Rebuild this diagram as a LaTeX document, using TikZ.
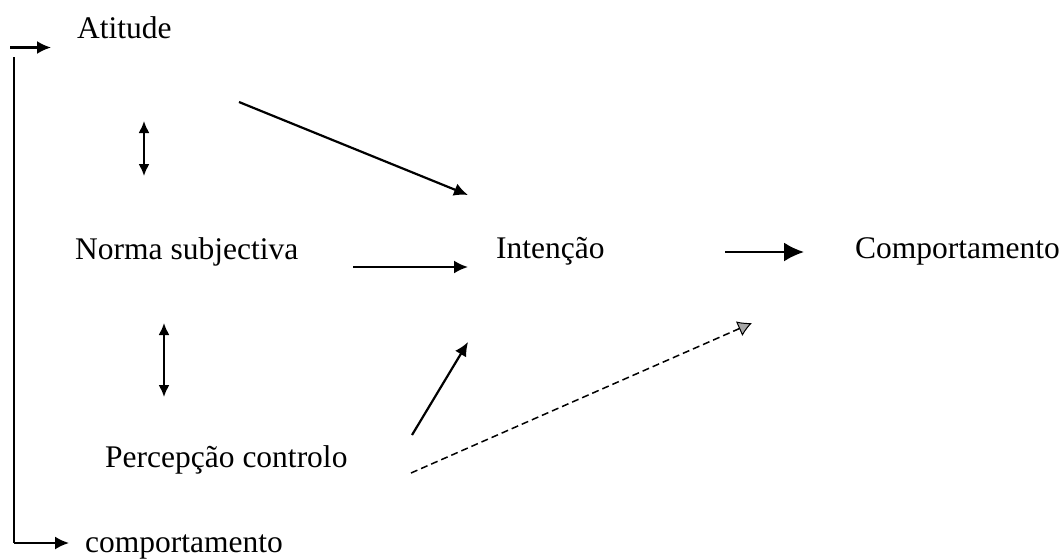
\documentclass[tikz,border=0pt]{standalone}
\usepackage{fontspec}
\setmainfont{Liberation Serif}
\usetikzlibrary{arrows.meta}
\begin{document}
\begin{tikzpicture}[x=1pt,y=-1pt,
  lbl/.style={anchor=base west,inner sep=0pt,font=\fontsize{31.5}{36}\selectfont},
  conn/.style={line width=2.2pt,-{Latex[length=14pt,width=13pt]}},
  dbl/.style={line width=1.9pt,{Latex[length=12pt,width=11pt]}-{Latex[length=12pt,width=11pt]}},
  big/.style={line width=2.2pt,-{Latex[length=20pt,width=19pt]}},
  dashconn/.style={line width=1.5pt,dash pattern=on 7pt off 4pt,-{Latex[length=14pt,width=16pt,fill=gray!70,line width=1pt]}},
  plain/.style={line width=2pt}]
\useasboundingbox (0,0) rectangle (1064,558);
\node[lbl] (at) at (77,38) {Atitude};
\node[lbl] (ns) at (75,259) {Norma subjectiva};
\node[lbl] (pc) at (105,467) {Percepção controlo};
\node[lbl] (in) at (496,258) {Intenção};
\node[lbl] (co) at (855,258) {Comportamento};
\node[lbl] (cb) at (85,552) {comportamento};
% connector end points
\coordinate (a1) at (239,102); \coordinate (a2) at (468,195);
\coordinate (n1) at (353,267); \coordinate (n2) at (468,267);
\coordinate (i1) at (725,252); \coordinate (i2) at (804,252);
\coordinate (p1) at (412,435); \coordinate (p2) at (468,342);
\coordinate (d1) at (411,473); \coordinate (d2) at (752,323);
\coordinate (u1) at (144,121); \coordinate (u2) at (144,176);
\coordinate (v1) at (164,323); \coordinate (v2) at (164,397);
\coordinate (t0) at (10,47.5); \coordinate (t1) at (51,47.5);
\coordinate (l0) at (14,57); \coordinate (l1) at (14,543); \coordinate (l2) at (69,543);
\draw[conn] (a1) -- (a2);
\draw[conn] (n1) -- (n2);
\draw[big] (i1) -- (i2);
\draw[conn] (p1) -- (p2);
\draw[dashconn] (d1) -- (d2);
\draw[dbl] (u1) -- (u2);
\draw[dbl] (v1) -- (v2);
\draw[conn] (t0) -- (t1);
\draw[plain] (l0) -- (l1);
\draw[conn,line width=2pt] (l1) -- (l2);
\end{tikzpicture}
\end{document}
